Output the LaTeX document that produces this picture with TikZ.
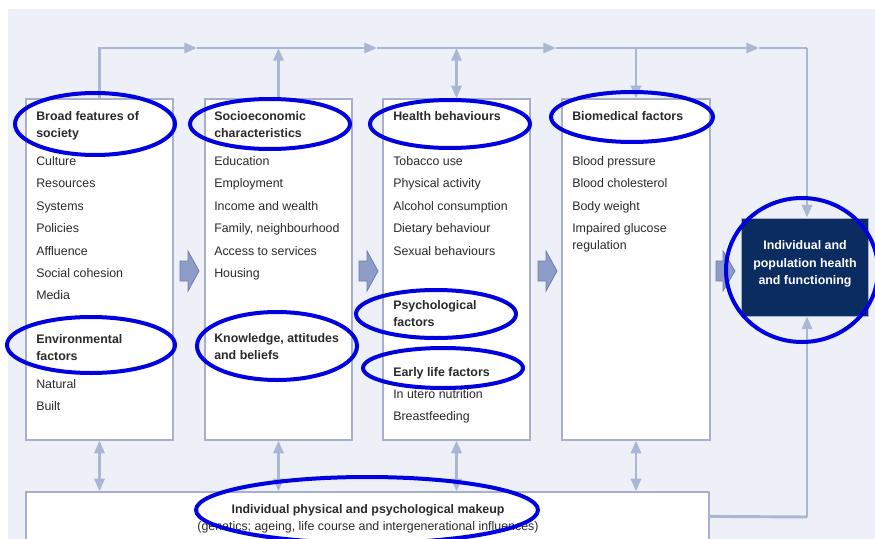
\documentclass[tikz,border=0pt]{standalone}
\usepackage{fontspec}
\setmainfont{Liberation Sans}
\usetikzlibrary{arrows.meta,fit}
\definecolor{bgc}{HTML}{EDF0F6}
\definecolor{edgec}{HTML}{A7AFCB}
\definecolor{connc}{HTML}{A9B6D4}
\definecolor{txtc}{HTML}{2A2A2A}
\definecolor{navyc}{HTML}{0B2C60}
\definecolor{blkc}{HTML}{8E9DC7}
\definecolor{blkdc}{HTML}{6E7EAA}
\definecolor{markc}{HTML}{0000E0}
\begin{document}
\begin{tikzpicture}[x=0.75pt,y=-0.75pt,
  panel/.style={draw=edgec, line width=0.9pt, fill=white, inner sep=0pt},
  darkbox/.style={fill=navyc, draw=edgec, line width=0.6pt, inner sep=0pt},
  item/.style={anchor=base west, inner sep=0pt, text=txtc, font=\fontsize{9.3pt}{11pt}\selectfont},
  head/.style={item, font=\fontsize{9.3pt}{11pt}\selectfont\bfseries},
  whitehead/.style={anchor=base, inner sep=0pt, text=white, font=\fontsize{9.3pt}{11pt}\selectfont\bfseries},
  centerhead/.style={anchor=base, inner sep=0pt, text=txtc, font=\fontsize{9.3pt}{11pt}\selectfont\bfseries},
  centeritem/.style={anchor=base, inner sep=0pt, text=txtc, font=\fontsize{9.3pt}{11pt}\selectfont},
  link/.style={draw=connc, line width=2.2pt},
  tip/.style={-{Triangle[length=9.5pt,width=7.5pt]}},
  dtip/.style={{Triangle[length=9.5pt,width=7.5pt]}-{Triangle[length=9.5pt,width=7.5pt]}},
  blockarrow/.style={fill=blkc, draw=blkdc, line width=0.6pt},
  ring/.style={draw=markc, line width=3pt}]
\useasboundingbox (0,0) rectangle (875,539);
\fill[white] (0,0) rectangle (875,539);
\fill[bgc] (8,9) rectangle (875,539);

% panels
\node[panel, fit={(26,99)(173,440)}] (b1) {};
\node[panel, fit={(205,99)(352,440)}] (b2) {};
\node[panel, fit={(383,99)(530,440)}] (b3) {};
\node[panel, fit={(562,99)(710,440)}] (b4) {};
\node[darkbox, fit={(741,218)(868,316)}] (dk) {};
\node[panel, fit={(26,492)(709,560)}] (bot) {};

% top feedback line
\coordinate (t1) at (197,48);
\coordinate (t2) at (377,48);
\coordinate (t3) at (556,48);
\coordinate (t4) at (759,48);
\coordinate (tr) at (807,48);
\draw[link,tip] (b1.north) |- (t1);
\draw[link,tip] (t1) -- (t2);
\draw[link,tip] (t2) -- (t3);
\draw[link,tip] (t3) -- (t4);
\draw[link] (t4) -- (tr);
\draw[link,tip] (tr) -- (tr |- dk.north);
\draw[link,tip] (b2.north) -- (b2.north |- t1);
\draw[link,dtip] (b3.north |- t1) -- (b3.north);
\draw[link,tip] (b4.north |- t1) -- (b4.north);

% bottom feedback line
\coordinate (br) at (807,517);
\draw[link] (bot.north east) ++(0,25) -- (br);
\draw[link,tip] (br) -- (br |- dk.south);

% vertical double arrows
\draw[link,dtip] (b1.south) -- (b1.south |- bot.north);
\draw[link,dtip] (b2.south) -- (b2.south |- bot.north);
\draw[link,dtip] (b3.south) -- (b3.south |- bot.north);
\draw[link,dtip] (b4.south) -- (b4.south |- bot.north);

% block arrows
\draw[blockarrow] (180,261) -- (188,261) -- (188,251) -- (199,271) -- (188,291) -- (188,281) -- (180,281) -- cycle;
\draw[blockarrow] (359,261) -- (367,261) -- (367,251) -- (378,271) -- (367,291) -- (367,281) -- (359,281) -- cycle;
\draw[blockarrow] (538,261) -- (546,261) -- (546,251) -- (557,271) -- (546,291) -- (546,281) -- (538,281) -- cycle;
\draw[blockarrow] (716,261) -- (723,261) -- (723,251) -- (735,271) -- (723,291) -- (723,281) -- (716,281) -- cycle;

% column 1
\node[head] (h1a) at (36,120.5) {Broad features of};
\node[head] (h1b) at (36,137.5) {society};
\foreach \t [count=\i] in {Culture,Resources,Systems,Policies,Affluence,Social cohesion,Media}
  \node[item] (c1i\i) at (36,{165.5+22.4*(\i-1)}) {\t};
\node[head] (h1c) at (36,343.5) {Environmental};
\node[head] (h1d) at (36,360.5) {factors};
\node[item] (c1n) at (36,388.5) {Natural};
\node[item] (c1b) at (36,410.5) {Built};

% column 2
\node[head] (h2a) at (214,120.5) {Socioeconomic};
\node[head] (h2b) at (214,137.5) {characteristics};
\foreach \t [count=\i] in {Education,Employment,Income and wealth,{Family, neighbourhood},Access to services,Housing}
  \node[item] (c2i\i) at (214,{165.5+22.4*(\i-1)}) {\t};
\node[head] (h2c) at (214,342.5) {Knowledge, attitudes};
\node[head] (h2d) at (214,359.5) {and beliefs};

% column 3
\node[head] (h3a) at (393,120.5) {Health behaviours};
\foreach \t [count=\i] in {Tobacco use,Physical activity,Alcohol consumption,Dietary behaviour,Sexual behaviours}
  \node[item] (c3i\i) at (393,{165.5+22.4*(\i-1)}) {\t};
\node[head] (h3b) at (393,309.5) {Psychological};
\node[head] (h3c) at (393,326.5) {factors};
\node[head] (h3d) at (393,376.5) {Early life factors};
\node[item] (c3u) at (393,398.5) {In utero nutrition};
\node[item] (c3f) at (393,420.5) {Breastfeeding};

% column 4
\node[head] (h4a) at (572,120.5) {Biomedical factors};
\foreach \t [count=\i] in {Blood pressure,Blood cholesterol,Body weight,Impaired glucose}
  \node[item] (c4i\i) at (572,{165.5+22.4*(\i-1)}) {\t};
\node[item] (c4r) at (572,249.5) {regulation};

% outcome box
\node[whitehead] (o1) at (805,249.5) {Individual and};
\node[whitehead] (o2) at (805,267.5) {population health};
\node[whitehead] (o3) at (805,284.5) {and functioning};

% bottom box
\node[centerhead] (m1) at (368,513.5) {Individual physical and psychological makeup};
\node[centeritem] (m2) at (368,530.5) {(genetics; ageing, life course and intergenerational influences)};

% annotation rings
\draw[ring] (95,124) ellipse [x radius=60pt, y radius=23.25pt];
\draw[ring] (270,124) ellipse [x radius=60pt, y radius=18.75pt];
\draw[ring] (450,124) ellipse [x radius=60pt, y radius=18pt];
\draw[ring] (632,117) ellipse [x radius=60.75pt, y radius=18.75pt];
\draw[ring] (802,270) ellipse [x radius=57pt, y radius=54pt];
\draw[ring] (91,345) ellipse [x radius=63pt, y radius=21pt];
\draw[ring] (277,346) ellipse [x radius=60pt, y radius=25.5pt];
\draw[ring] (436,314) ellipse [x radius=60pt, y radius=18pt];
\draw[ring] (443,368) ellipse [x radius=60pt, y radius=15pt];
\draw[ring] (367,510) ellipse [x radius=128.25pt, y radius=24.75pt];
\end{tikzpicture}
\end{document}
